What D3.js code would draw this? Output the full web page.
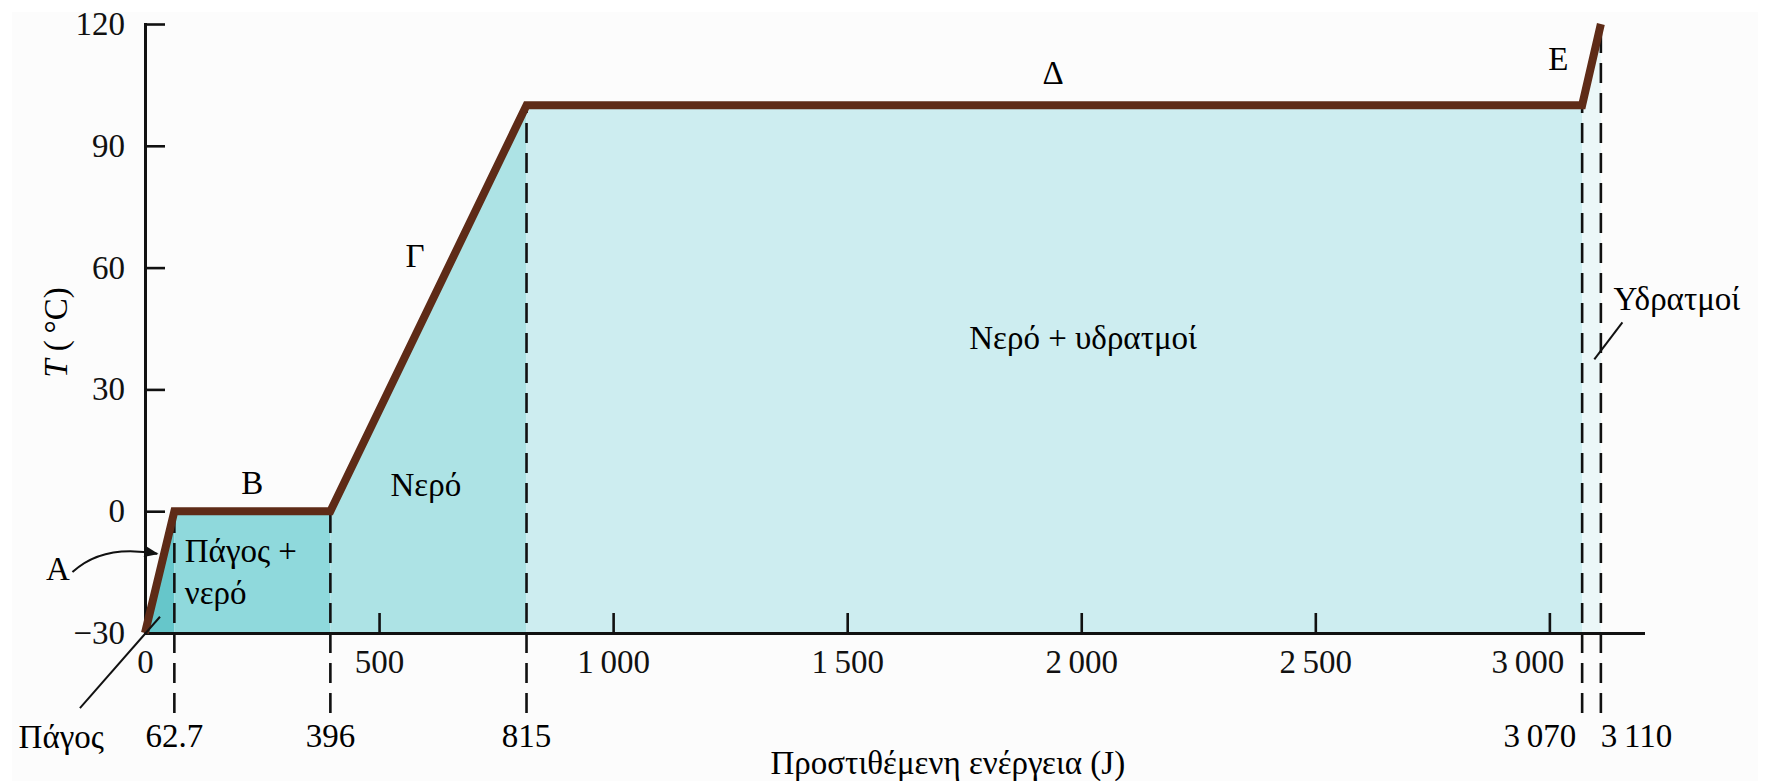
<html lang="el">
<head>
    <meta charset="UTF-8">
    <title>Καμπύλη θέρμανσης νερού</title>
    <script src="https://d3js.org/d3.v7.min.js"></script>
    <style>
        body { margin: 0; background: #ffffff; }
        svg { font-family: "Liberation Serif", "DejaVu Serif", serif; }
    </style>
</head>
<body>
    <script>
        // Data
        const energy = [0, 62.7, 396, 815, 3070, 3110];
        const temperature = [-30, 0, 0, 100, 100, 120];
        const segmentLetters = ["A", "B", "Γ", "Δ", "E"];
        const phaseNames = ["Πάγος", "Πάγος +\nνερό", "Νερό", "Νερό + υδρατμοί", "Υδρατμοί"];
        const markedEnergies = ["62.7", "396", "815", "3\u2009070", "3\u2009110"];

        const xTicks = [0, 500, 1000, 1500, 2000, 2500, 3000];
        const xTickLabels = ["0", "500", "1\u2009000", "1\u2009500", "2\u2009000", "2\u2009500", "3\u2009000"];
        const yTicks = [-30, 0, 30, 60, 90, 120];
        const yTickLabels = ["\u221230", "0", "30", "60", "90", "120"];

        // styles
        const phaseFills = ["#66c6ca", "#8fd9dc", "#ade3e5", "#cdedf0", "#ebf7f8"];
        const curveColor = "#5e2b17";
        const fontSize = 33;

        const width = 1775;
        const height = 781;
        const margin = { top: 24, right: 132, bottom: 148, left: 145 };

        const x = d3.scaleLinear()
            .domain([0, 3200])
            .range([margin.left, width - margin.right]);

        const y = d3.scaleLinear()
            .domain([-30, 120])
            .range([height - margin.bottom, margin.top]);

        const points = energy.map((e, i) => ({ e: e, t: temperature[i] }));

        const svg = d3.select("body")
            .append("svg")
            .attr("width", width)
            .attr("height", height);

        // paper
        svg.append("rect")
            .attr("x", 12).attr("y", 12)
            .attr("width", width - 29).attr("height", height - 12)
            .attr("fill", "#fcfcfc");

        // phase areas under the curve
        const area = d3.area()
            .x(d => x(d.e))
            .y0(y(-30))
            .y1(d => y(d.t));

        svg.append("g")
            .selectAll("path")
            .data(d3.range(points.length - 1))
            .join("path")
            .attr("d", i => area([points[i], points[i + 1]]))
            .attr("fill", i => phaseFills[i]);

        // dashed markers
        const dashBottom = y(-30) + 80;
        svg.append("g")
            .selectAll("line")
            .data(points.slice(1))
            .join("line")
            .attr("x1", d => x(d.e))
            .attr("x2", d => x(d.e))
            .attr("y1", dashBottom)
            .attr("y2", d => y(d.t))
            .attr("stroke", "#111")
            .attr("stroke-width", 2.6)
            .attr("stroke-dasharray", "20,10");

        // marked energy labels
        const markAnchor = ["middle", "middle", "middle", "end", "start"];
        const markDx = [0, 0, 0, -6, 0];
        svg.append("g")
            .selectAll("text")
            .data(points.slice(1))
            .join("text")
            .attr("x", (d, i) => x(d.e) + markDx[i])
            .attr("y", dashBottom + 22)
            .attr("dy", "0.35em")
            .attr("text-anchor", (d, i) => markAnchor[i])
            .style("font-size", fontSize + "px")
            .text((d, i) => markedEnergies[i]);

        // axes
        const xAxis = svg.append("g")
            .attr("transform", `translate(0,${y(-30)})`)
            .call(d3.axisBottom(x)
                .tickValues(xTicks)
                .tickFormat((d, i) => xTickLabels[i])
                .tickSize(-20)
                .tickSizeOuter(0)
                .tickPadding(17));

        const yAxis = svg.append("g")
            .attr("transform", `translate(${x(0)},0)`)
            .call(d3.axisLeft(y)
                .tickValues(yTicks)
                .tickFormat((d, i) => yTickLabels[i])
                .tickSize(-20)
                .tickSizeOuter(0)
                .tickPadding(20));

        [xAxis, yAxis].forEach(g => {
            g.select(".domain").attr("stroke", "#111").attr("stroke-width", 3).attr("stroke-linecap", "square");
            g.selectAll(".tick line").attr("stroke", "#111").attr("stroke-width", 2.6);
            g.selectAll(".tick text")
                .attr("fill", "#111")
                .style("font-family", "'Liberation Serif', serif")
                .style("font-size", fontSize + "px");
        });
        // keep 3 000 clear of the 3 070 marker
        xAxis.selectAll(".tick text").filter(d => d === 3000).attr("dx", -22);
        xAxis.selectAll(".tick").filter(d => d === 0).select("line").remove();
        yAxis.selectAll(".tick").filter(d => d === -30).select("line").remove();

        // heating curve
        svg.append("path")
            .datum(points)
            .attr("d", d3.line().x(d => x(d.e)).y(d => y(d.t)))
            .attr("fill", "none")
            .attr("stroke", curveColor)
            .attr("stroke-width", 8)
            .attr("stroke-linejoin", "miter");

        // segment letters
        const letterPos = [[-186, -14], [229, 7.2], [577, 63], [1940, 108], [3019, 111.6]];
        svg.append("g")
            .selectAll("text")
            .data(letterPos)
            .join("text")
            .attr("x", d => x(d[0]))
            .attr("y", d => y(d[1]))
            .attr("dy", "0.35em")
            .attr("text-anchor", "middle")
            .style("font-size", fontSize + "px")
            .text((d, i) => segmentLetters[i]);

        // arrow for A
        svg.append("defs").append("marker")
            .attr("id", "arrow")
            .attr("viewBox", "0 0 10 10")
            .attr("refX", 9).attr("refY", 5)
            .attr("markerWidth", 16).attr("markerHeight", 14)
            .attr("markerUnits", "userSpaceOnUse")
            .attr("orient", "auto")
            .append("path")
            .attr("d", "M0,1 L10,5 L0,9 Z")
            .attr("fill", "#111");

        svg.append("path")
            .attr("d", `M${x(-155)},${y(-15)} Q${x(-90)},${y(-8)} ${x(26)},${y(-10.5)}`)
            .attr("fill", "none")
            .attr("stroke", "#111")
            .attr("stroke-width", 2)
            .attr("marker-end", "url(#arrow)");

        // phase labels
        const phasePos = [[-179, -55.5, "middle"], [85, -9.6, "start"], [600, 6.5, "middle"], [2004, 42.9, "middle"], [3137, 52.5, "start"]];
        phasePos.forEach((p, i) => {
            const lines = phaseNames[i].split("\n");
            const t = svg.append("text")
                .attr("x", x(p[0]))
                .attr("y", y(p[1]))
                .attr("text-anchor", p[2])
                .style("font-size", fontSize + "px");
            lines.forEach((l, j) => {
                t.append("tspan")
                    .attr("x", x(p[0]))
                    .attr("dy", j === 0 ? "0.35em" : "1.27em")
                    .text(l);
            });
        });

        // leader lines
        svg.append("line")
            .attr("x1", x(-139)).attr("y1", y(-48.5))
            .attr("x2", x(32)).attr("y2", y(-26))
            .attr("stroke", "#111").attr("stroke-width", 2);
        svg.append("line")
            .attr("x1", x(3156)).attr("y1", y(46.5))
            .attr("x2", x(3096)).attr("y2", y(37.4))
            .attr("stroke", "#111").attr("stroke-width", 2);

        // axis titles
        svg.append("text")
            .attr("x", x(1715))
            .attr("y", height - 19)
            .attr("dy", "0.35em")
            .attr("text-anchor", "middle")
            .style("font-size", fontSize + "px")
            .text("Προστιθέμενη ενέργεια (J)");

        const yTitle = svg.append("text")
            .attr("transform", `translate(${x(0) - 90},${y(44)}) rotate(-90)`)
            .attr("dy", "0.35em")
            .attr("text-anchor", "middle")
            .style("font-size", fontSize + "px");
        yTitle.append("tspan").style("font-style", "italic").text("T");
        yTitle.append("tspan").text(" (\u2009°C)");
    </script>
</body>
</html>
